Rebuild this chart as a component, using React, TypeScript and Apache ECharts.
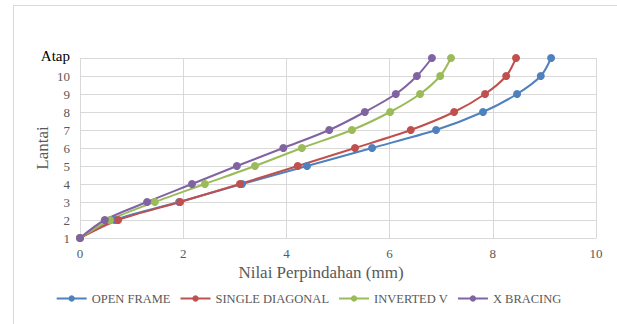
import React, { useEffect, useRef } from "react";
import * as echarts from "echarts";

const levels = [1, 2, 3, 4, 5, 6, 7, 8, 9, 10, 11];
const levelLabels = ["1", "2", "3", "4", "5", "6", "7", "8", "9", "10", "Atap"];
const seriesNames = ["OPEN FRAME", "SINGLE DIAGONAL", "INVERTED V", "X BRACING"];
const openFrame = [0, 0.68, 1.92, 3.14, 4.4, 5.66, 6.9, 7.81, 8.47, 8.93, 9.13];
const singleDiagonal = [0, 0.74, 1.94, 3.1, 4.22, 5.33, 6.41, 7.25, 7.85, 8.26, 8.45];
const invertedV = [0, 0.58, 1.45, 2.42, 3.39, 4.3, 5.27, 6.01, 6.59, 6.98, 7.19];
const xBracing = [0, 0.48, 1.3, 2.17, 3.04, 3.94, 4.83, 5.52, 6.12, 6.53, 6.82];
const colors = ["#4F81BD", "#C0504D", "#9BBB59", "#8064A2"];

const FF = "'Liberation Serif', 'Times New Roman', serif";

export default function App() {
  const ref = useRef<HTMLDivElement>(null);
  useEffect(() => {
    if (!ref.current) return;
    const chart = echarts.init(ref.current, null, { renderer: "svg" });
    const all = [openFrame, singleDiagonal, invertedV, xBracing];
    chart.setOption({
      animation: false,
      color: colors,
      textStyle: { fontFamily: FF },
      graphic: [
        {
          type: "rect",
          shape: { x: 13.5, y: 5.5, width: 700, height: 400 },
          style: { fill: "none", stroke: "#D9D9D9", lineWidth: 1 },
          silent: true,
        },
      ],
      grid: { left: 80, right: 21, top: 58, bottom: 86 },
      legend: {
        data: seriesNames,
        left: "center",
        top: 287,
        itemWidth: 30,
        itemHeight: 8,
        itemGap: 9,
        textStyle: { color: "#595959", fontSize: 12.5, fontFamily: FF },
      },
      xAxis: {
        type: "value",
        min: 0,
        max: 10,
        interval: 2,
        name: "Nilai Perpindahan (mm)",
        nameLocation: "middle",
        nameGap: 26,
        nameMoveOverlap: false,
        nameTextStyle: { color: "#595959", fontSize: 17, fontFamily: FF, padding: [0, 34, 0, 0] },
        axisLine: { show: true, lineStyle: { color: "#D9D9D9" } },
        axisTick: { show: false },
        axisLabel: { color: "#595959", fontSize: 13, margin: 9, fontFamily: FF },
        splitLine: { show: true, lineStyle: { color: "#D9D9D9" } },
      },
      yAxis: {
        type: "value",
        min: 1,
        max: 11,
        interval: 1,
        name: "Lantai",
        nameLocation: "middle",
        nameGap: 29,
        nameRotate: 90,
        nameMoveOverlap: false,
        nameTextStyle: { color: "#595959", fontSize: 17, fontFamily: FF },
        axisLine: { show: false },
        axisTick: { show: false },
        axisLabel: {
          margin: 10,
          fontFamily: FF,
          formatter: (v: number) => {
            const i = levels.indexOf(v);
            const t = i >= 0 ? levelLabels[i] : "";
            return t === "Atap" ? "{a|Atap}" : t;
          },
          color: "#595959",
          fontSize: 13,
          rich: { a: { color: "#000000", fontSize: 15, fontFamily: FF, padding: [0, 0, 4, 0] } },
        },
        splitLine: { show: true, lineStyle: { color: "#D9D9D9" } },
      },
      series: seriesNames.map((name, si) => ({
        name,
        type: "line",
        smooth: 0.3,
        symbol: "circle",
        symbolSize: 8,
        lineStyle: { width: 2 },
        data: levels.map((lv, i) => [all[si][i], lv]),
      })),
    });
    return () => chart.dispose();
  }, []);
  return <div ref={ref} style={{ width: 617, height: 324, position: "absolute", left: 0, top: 0 }} />;
}
